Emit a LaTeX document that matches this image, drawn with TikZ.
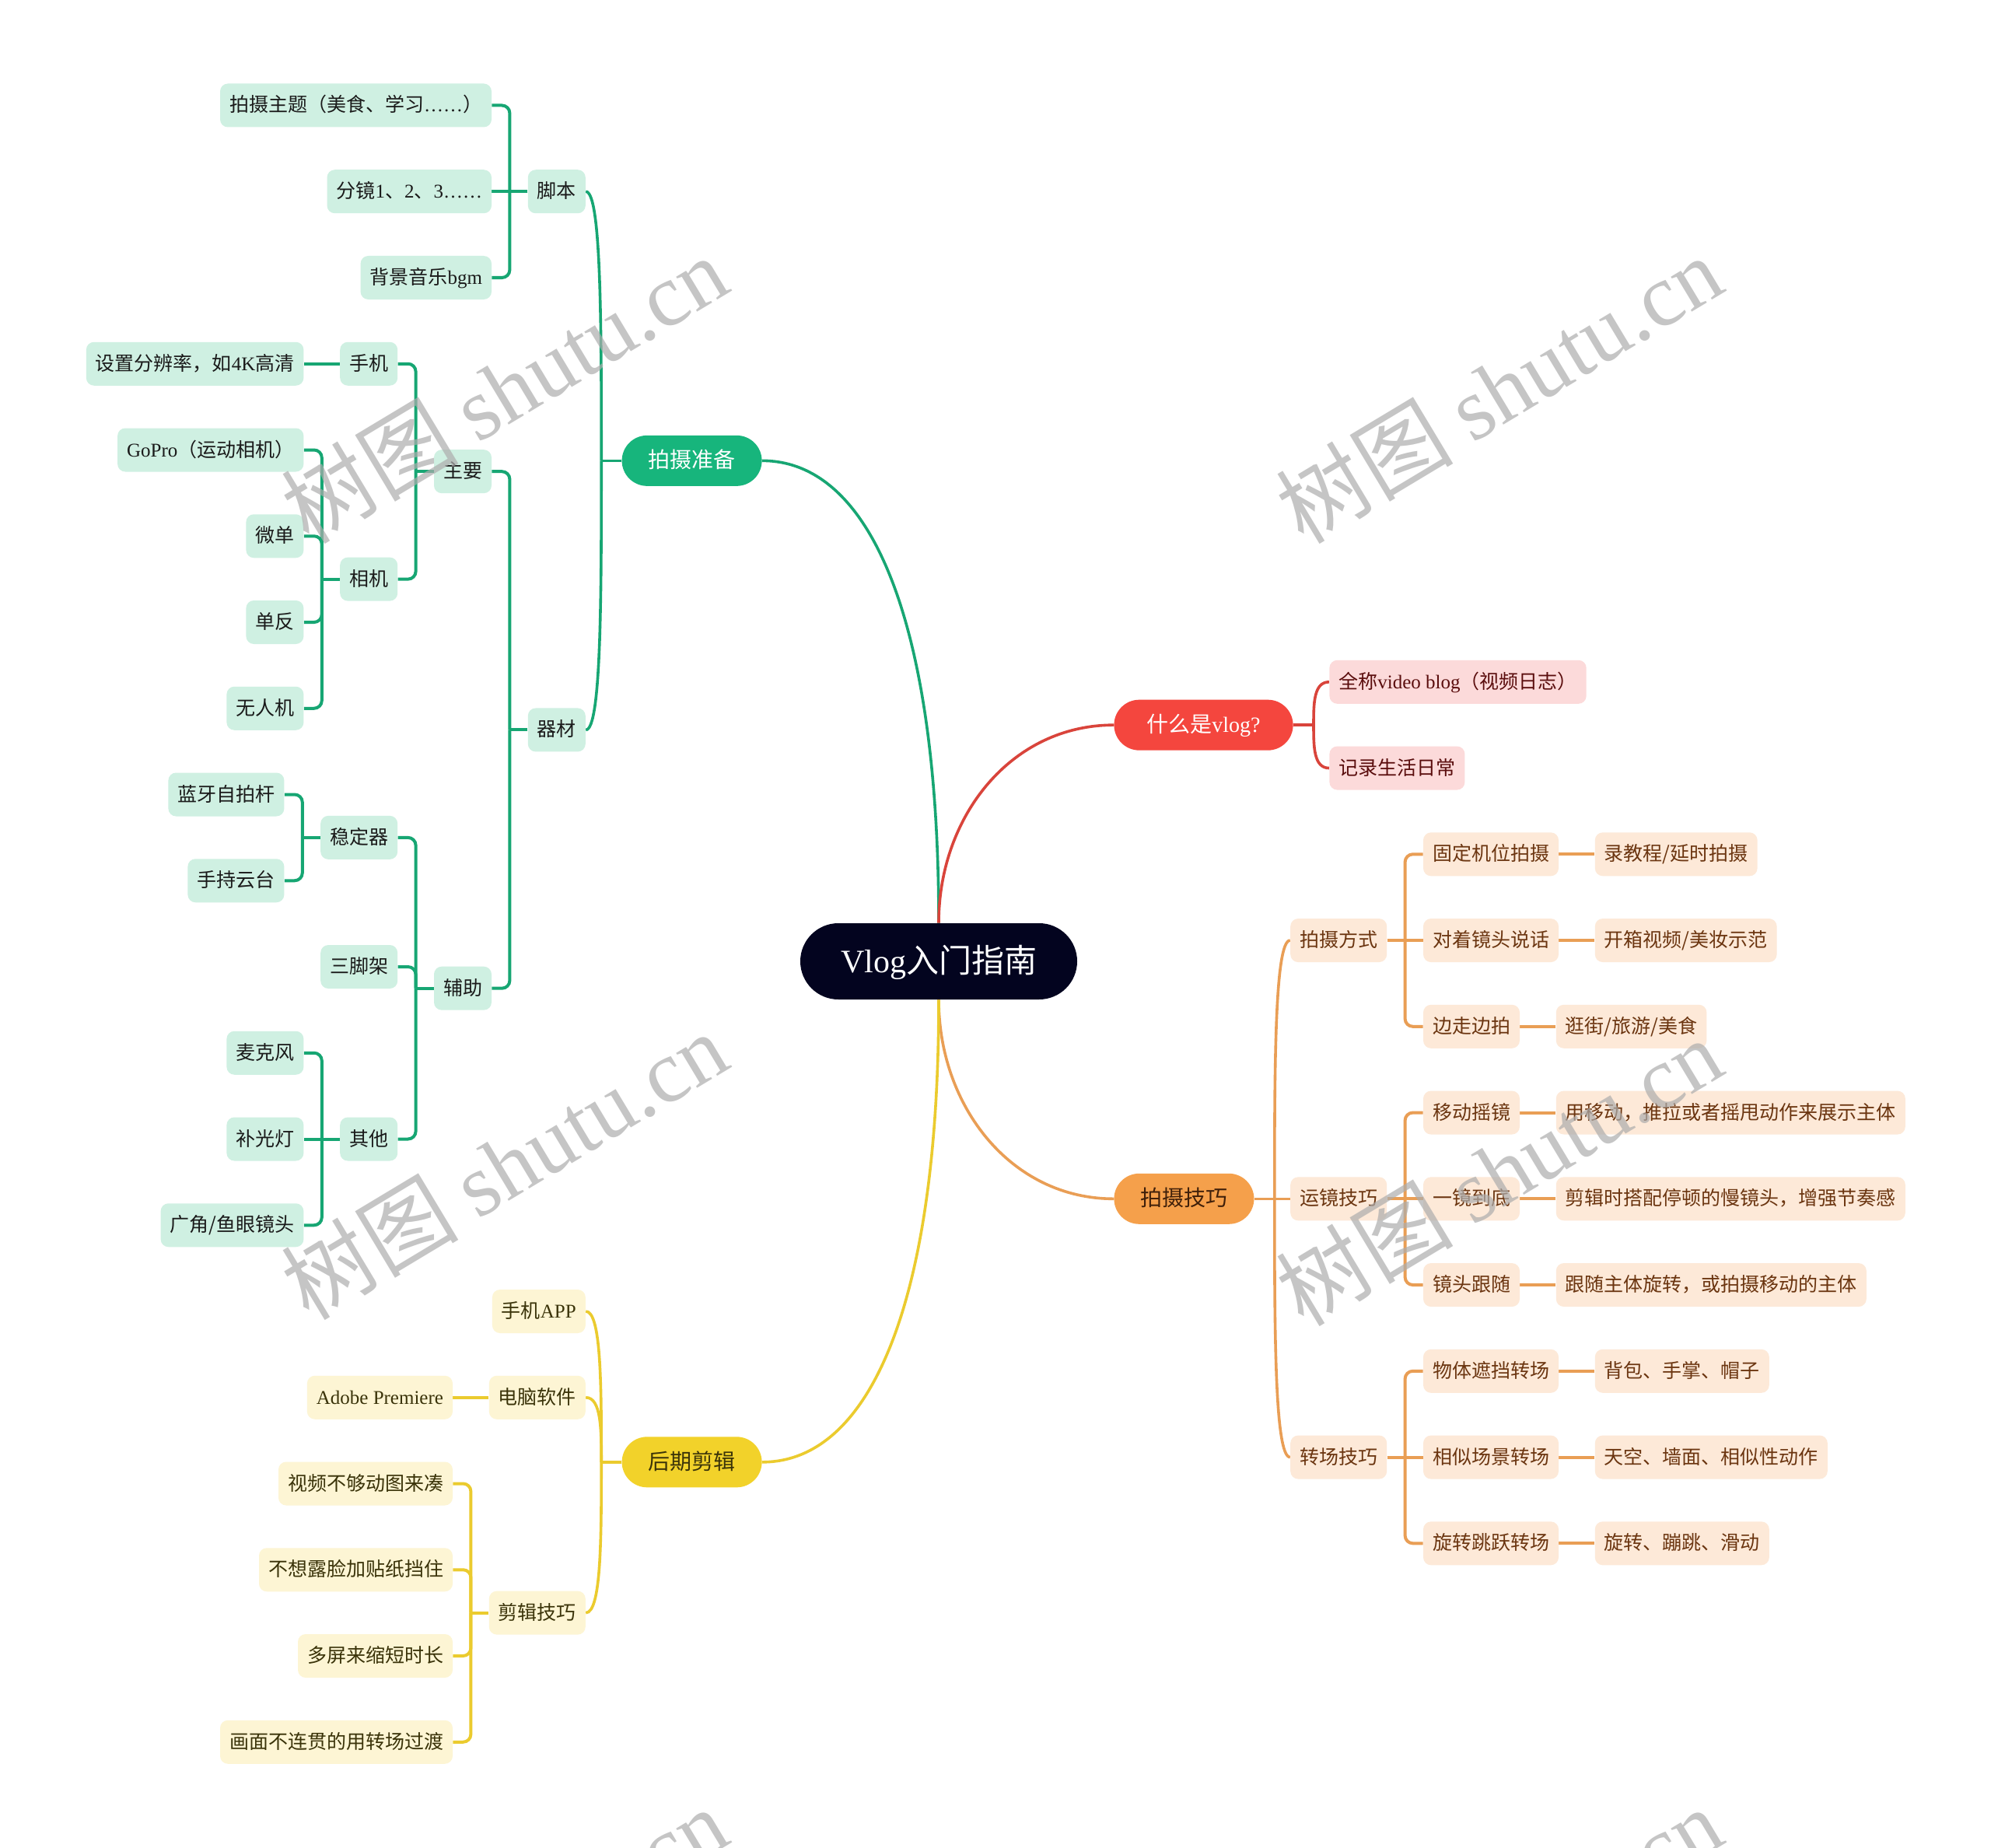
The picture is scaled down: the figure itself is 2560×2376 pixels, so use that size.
\documentclass[tikz,border=0pt]{standalone}
\usepackage{fontspec}
\setmainfont{Noto Sans CJK SC}
\newfontfamily\lat{Liberation Serif}
\newcommand\en[1]{{\lat #1}}
\usetikzlibrary{calc}
\pgfdeclarelayer{background}
\pgfsetlayers{background,main}
\definecolor{navy}{HTML}{03041F}
\definecolor{gbr}{HTML}{17B57C}
\definecolor{gfill}{HTML}{CFF0E2}
\definecolor{gline}{HTML}{17A673}
\definecolor{gtext}{HTML}{1A1A1A}
\definecolor{rbr}{HTML}{F4463E}
\definecolor{rfill}{HTML}{FCDADA}
\definecolor{rline}{HTML}{D9443B}
\definecolor{rtext}{HTML}{5A0D0D}
\definecolor{obr}{HTML}{F5A04B}
\definecolor{ofill}{HTML}{FDE9D8}
\definecolor{oline}{HTML}{E99E55}
\definecolor{otext}{HTML}{6B3510}
\definecolor{ybr}{HTML}{F2D22A}
\definecolor{yfill}{HTML}{FDF5D4}
\definecolor{yline}{HTML}{EBCB2E}
\definecolor{ytext}{HTML}{3A3309}
\newcommand\treeL[3]{%
  \draw[#1] (#2.west) -- ++(-11.5pt,0) coordinate (#2-j);
  \foreach \c in {#3} {\draw[#1, rounded corners=5pt] (#2-j) |- (\c.east);}}
\newcommand\treeR[3]{%
  \draw[#1] (#2.east) -- ++(11.5pt,0) coordinate (#2-j);
  \foreach \c in {#3} {\draw[#1, rounded corners=5pt] (#2-j) |- (\c.west);}}
\newcommand\straightL[3]{\draw[#1] (#2.west) -- (#3.east);}
\newcommand\straightR[3]{\draw[#1] (#2.east) -- (#3.west);}
\newcommand\curveL[3]{%
  \draw[#1] (#2.west) -- ++(-13pt,0) coordinate (#2-j);
  \foreach \c in {#3} {\draw[#1] (#2-j) .. controls ($(#2-j)!0.5!(#2-j |- \c.east)$) and (#2-j |- \c.east) .. (\c.east);}}
\newcommand\curveR[3]{%
  \draw[#1] (#2.east) -- ++(13pt,0) coordinate (#2-j);
  \foreach \c in {#3} {\draw[#1] (#2-j) .. controls ($(#2-j)!0.5!(#2-j |- \c.west)$) and (#2-j |- \c.west) .. (\c.west);}}
\begin{document}
\begin{tikzpicture}[x=0.5pt,y=-0.5pt,
  declare function={ly(\i)=135.5+110.75*\i; ry(\j)=876.8+110.75*\j;},
  leaf/.style={rounded corners=5pt, minimum height=28pt, inner xsep=6pt, inner ysep=0pt,
    font=\fontsize{12.5}{15}\selectfont, text height=10.5pt, text depth=2pt},
  gleaf/.style={leaf, fill=gfill, text=gtext},
  rleaf/.style={leaf, fill=rfill, text=rtext},
  oleaf/.style={leaf, fill=ofill, text=otext},
  yleaf/.style={leaf, fill=yfill, text=ytext},
  branch/.style={rounded corners=16.25pt, minimum height=32.5pt, inner xsep=17pt, inner ysep=0pt,
    font=\fontsize{14}{17}\selectfont, text height=11.8pt, text depth=2.2pt},
  rootnode/.style={fill=navy, text=white, rounded corners=24.5pt, minimum height=49pt, inner xsep=26pt,
    inner ysep=0pt, font=\fontsize{21}{25}\selectfont, text height=17.6pt, text depth=3.4pt},
  gln/.style={draw=gline, line width=2pt},
  rln/.style={draw=rline, line width=2pt},
  oln/.style={draw=oline, line width=2pt},
  yln/.style={draw=yline, line width=2pt},
  gcv/.style={draw=gline, line width=1.8pt},
  rcv/.style={draw=rline, line width=1.8pt},
  ocv/.style={draw=oline, line width=1.8pt},
  ycv/.style={draw=yline, line width=1.8pt},
  wm/.style={rotate=31, text=black!32, opacity=0.7, font=\fontsize{57}{64}\selectfont, inner sep=0pt}
]
\useasboundingbox (0,0) rectangle (2560,2376);
\foreach \i in {0,...,19} {\coordinate (L\i) at (0,{ly(\i)});}
\foreach \j in {0,...,10} {\coordinate (R\j) at (0,{ry(\j)});}
\coordinate (Lqc) at (0,{ly(7.25)});
\coordinate (Lzy) at (0,{ly(4.25)});
\coordinate (Lxj) at (0,{ly(5.5)});
\coordinate (Lfz) at (0,{ly(10.25)});
\coordinate (Lwdq) at (0,{ly(8.5)});
\coordinate (Ljj) at (0,{ly(17.5)});

% root and main branches
\node[rootnode] (root) at (1207,1236) {\en{Vlog}入门指南};
\node[branch, fill=gbr, text=white, anchor=east] (zb) at (980,{ly(4.125)}) {拍摄准备};
\node[branch, fill=ybr, text=ytext, anchor=east] (hq) at (980,{ly(15.75)}) {后期剪辑};
\node[branch, fill=rbr, text=white, anchor=west, inner xsep=21pt] (sm) at (1432,{ry(0.5)}) {什么是\en{vlog?}};
\node[branch, fill=obr, text=otext!60!black, anchor=west] (jq) at (1432,{ry(6)}) {拍摄技巧};

% green subtree
\node[gleaf, anchor=east] (jb) at ([xshift=-23pt]zb.west |- L1) {脚本};
\node[gleaf, anchor=east] (qc) at ([xshift=-23pt]zb.west |- Lqc) {器材};
\node[gleaf, anchor=east] (t1) at ([xshift=-23pt]jb.west |- L0) {拍摄主题（美食、学习\en{……}）};
\node[gleaf, anchor=east] (t2) at ([xshift=-23pt]jb.west |- L1) {分镜\en{1}、\en{2}、\en{3……}};
\node[gleaf, anchor=east] (t3) at ([xshift=-23pt]jb.west |- L2) {背景音乐\en{bgm}};
\node[gleaf, anchor=east] (zy) at ([xshift=-23pt]qc.west |- Lzy) {主要};
\node[gleaf, anchor=east] (fz) at ([xshift=-23pt]qc.west |- Lfz) {辅助};
\node[gleaf, anchor=east] (sj) at ([xshift=-23pt]zy.west |- L3) {手机};
\node[gleaf, anchor=east] (xj) at ([xshift=-23pt]zy.west |- Lxj) {相机};
\node[gleaf, anchor=east] (fbl) at ([xshift=-23pt]sj.west |- L3) {设置分辨率，如\en{4K}高清};
\node[gleaf, anchor=east] (gp) at ([xshift=-23pt]xj.west |- L4) {\en{GoPro}（运动相机）};
\node[gleaf, anchor=east] (wd) at ([xshift=-23pt]xj.west |- L5) {微单};
\node[gleaf, anchor=east] (df) at ([xshift=-23pt]xj.west |- L6) {单反};
\node[gleaf, anchor=east] (wrj) at ([xshift=-23pt]xj.west |- L7) {无人机};
\node[gleaf, anchor=east] (wdq) at ([xshift=-23pt]fz.west |- Lwdq) {稳定器};
\node[gleaf, anchor=east] (sjj) at ([xshift=-23pt]fz.west |- L10) {三脚架};
\node[gleaf, anchor=east] (qt) at ([xshift=-23pt]fz.west |- L12) {其他};
\node[gleaf, anchor=east] (ly) at ([xshift=-23pt]wdq.west |- L8) {蓝牙自拍杆};
\node[gleaf, anchor=east] (yt) at ([xshift=-23pt]wdq.west |- L9) {手持云台};
\node[gleaf, anchor=east] (mkf) at ([xshift=-23pt]qt.west |- L11) {麦克风};
\node[gleaf, anchor=east] (bgd) at ([xshift=-23pt]qt.west |- L12) {补光灯};
\node[gleaf, anchor=east] (gj) at ([xshift=-23pt]qt.west |- L13) {广角/鱼眼镜头};

% yellow subtree
\node[yleaf, anchor=east] (app) at ([xshift=-23pt]hq.west |- L14) {手机\en{APP}};
\node[yleaf, anchor=east] (dn) at ([xshift=-23pt]hq.west |- L15) {电脑软件};
\node[yleaf, anchor=east] (jj) at ([xshift=-23pt]hq.west |- Ljj) {剪辑技巧};
\node[yleaf, anchor=east] (adobe) at ([xshift=-23pt]dn.west |- L15) {\en{Adobe Premiere}};
\node[yleaf, anchor=east] (j1) at ([xshift=-23pt]jj.west |- L16) {视频不够动图来凑};
\node[yleaf, anchor=east] (j2) at ([xshift=-23pt]jj.west |- L17) {不想露脸加贴纸挡住};
\node[yleaf, anchor=east] (j3) at ([xshift=-23pt]jj.west |- L18) {多屏来缩短时长};
\node[yleaf, anchor=east] (j4) at ([xshift=-23pt]jj.west |- L19) {画面不连贯的用转场过渡};

% red subtree
\node[rleaf, anchor=west] (qch) at ([xshift=23pt]sm.east |- R0) {全称\en{video blog}（视频日志）};
\node[rleaf, anchor=west] (jl) at ([xshift=23pt]sm.east |- R1) {记录生活日常};

% orange subtree
\node[oleaf, anchor=west] (ps) at ([xshift=23pt]jq.east |- R3) {拍摄方式};
\node[oleaf, anchor=west] (yj) at ([xshift=23pt]jq.east |- R6) {运镜技巧};
\node[oleaf, anchor=west] (zc) at ([xshift=23pt]jq.east |- R9) {转场技巧};
\node[oleaf, anchor=west] (a1) at ([xshift=23pt]ps.east |- R2) {固定机位拍摄};
\node[oleaf, anchor=west] (a2) at ([xshift=23pt]ps.east |- R3) {对着镜头说话};
\node[oleaf, anchor=west] (a3) at ([xshift=23pt]ps.east |- R4) {边走边拍};
\node[oleaf, anchor=west] (b1) at ([xshift=23pt]a1.east |- R2) {录教程/延时拍摄};
\node[oleaf, anchor=west] (b2) at ([xshift=23pt]a2.east |- R3) {开箱视频/美妆示范};
\node[oleaf, anchor=west] (b3) at ([xshift=23pt]a3.east |- R4) {逛街/旅游/美食};
\node[oleaf, anchor=west] (c1) at ([xshift=23pt]yj.east |- R5) {移动摇镜};
\node[oleaf, anchor=west] (c2) at ([xshift=23pt]yj.east |- R6) {一镜到底};
\node[oleaf, anchor=west] (c3) at ([xshift=23pt]yj.east |- R7) {镜头跟随};
\node[oleaf, anchor=west] (d1) at ([xshift=23pt]c1.east |- R5) {用移动，推拉或者摇甩动作来展示主体};
\node[oleaf, anchor=west] (d2) at ([xshift=23pt]c2.east |- R6) {剪辑时搭配停顿的慢镜头，增强节奏感};
\node[oleaf, anchor=west] (d3) at ([xshift=23pt]c3.east |- R7) {跟随主体旋转，或拍摄移动的主体};
\node[oleaf, anchor=west] (e1) at ([xshift=23pt]zc.east |- R8) {物体遮挡转场};
\node[oleaf, anchor=west] (e2) at ([xshift=23pt]zc.east |- R9) {相似场景转场};
\node[oleaf, anchor=west] (e3) at ([xshift=23pt]zc.east |- R10) {旋转跳跃转场};
\node[oleaf, anchor=west] (f1) at ([xshift=23pt]e1.east |- R8) {背包、手掌、帽子};
\node[oleaf, anchor=west] (f2) at ([xshift=23pt]e2.east |- R9) {天空、墙面、相似性动作};
\node[oleaf, anchor=west] (f3) at ([xshift=23pt]e3.east |- R10) {旋转、蹦跳、滑动};

\begin{pgfonlayer}{background}
\fill[white] (0,0) rectangle (2560,2376);
% main curves
\draw[gcv] (zb.east) .. controls +(140,0) and +(0,-387) .. (root.north);
\draw[rcv] (root.north) .. controls +(0,-137) and +(-132,0) .. (sm.west);
\draw[ocv] (root.south) .. controls +(0,137) and +(-132,0) .. (jq.west);
\draw[ycv] (hq.east) .. controls +(140,0) and +(0,387) .. (root.south);
% level-1 curves
\curveL{gcv}{zb}{jb,qc}
\curveL{ycv}{hq}{app,dn,jj}
\curveR{rcv}{sm}{qch,jl}
\curveR{ocv}{jq}{ps,zc}
\straightR{ocv}{jq}{yj}
% deeper trees
\treeL{gln}{jb}{t1,t3}
\straightL{gln}{jb}{t2}
\treeL{gln}{qc}{zy,fz}
\treeL{gln}{zy}{sj,xj}
\straightL{gln}{sj}{fbl}
\treeL{gln}{xj}{gp,wd,df,wrj}
\treeL{gln}{fz}{wdq,sjj,qt}
\treeL{gln}{wdq}{ly,yt}
\treeL{gln}{qt}{mkf,gj}
\straightL{gln}{qt}{bgd}
\straightL{yln}{dn}{adobe}
\treeL{yln}{jj}{j1,j2,j3,j4}
\treeR{oln}{ps}{a1,a3}
\straightR{oln}{ps}{a2}
\straightR{oln}{a1}{b1}
\straightR{oln}{a2}{b2}
\straightR{oln}{a3}{b3}
\treeR{oln}{yj}{c1,c3}
\straightR{oln}{yj}{c2}
\straightR{oln}{c1}{d1}
\straightR{oln}{c2}{d2}
\straightR{oln}{c3}{d3}
\treeR{oln}{zc}{e1,e3}
\straightR{oln}{zc}{e2}
\straightR{oln}{e1}{f1}
\straightR{oln}{e2}{f2}
\straightR{oln}{e3}{f3}
\end{pgfonlayer}

% watermarks
\node[wm] (wm1) at (648,500) {树图 \en{shutu.cn}};
\node[wm] (wm2) at (1927,500) {树图 \en{shutu.cn}};
\node[wm] (wm3) at (648,1498) {树图 \en{shutu.cn}};
\node[wm] (wm4) at (1927,1506) {树图 \en{shutu.cn}};
\node[wm] (wm5) at (648,2495) {树图 \en{shutu.cn}};
\node[wm] (wm6) at (1927,2495) {树图 \en{shutu.cn}};
\end{tikzpicture}
\end{document}
